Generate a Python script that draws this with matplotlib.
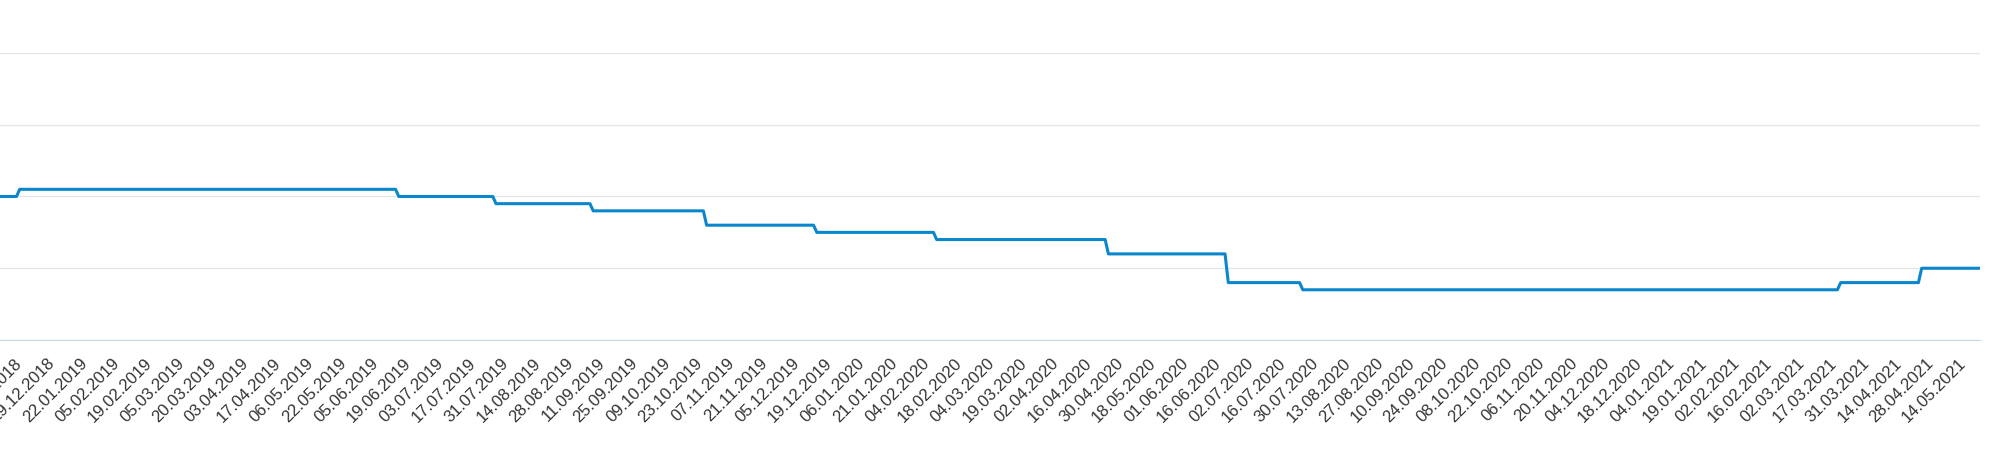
import numpy as np
import matplotlib.pyplot as plt

# key rate levels (%) and how many trading days each level lasted
rate_levels = [7.5, 7.75, 7.5, 7.25, 7.0, 6.5, 6.25, 6.0, 5.5, 4.5, 4.25, 4.5, 5.0]
level_days = [20, 117, 30, 30, 35, 34, 37, 53, 37, 23, 166, 25, 19]

# x labels, one every 10 trading days
tick_labels = ["17.12.2018", "29.12.2018", "22.01.2019", "05.02.2019", "19.02.2019",
               "05.03.2019", "20.03.2019", "03.04.2019", "17.04.2019", "06.05.2019",
               "22.05.2019", "05.06.2019", "19.06.2019", "03.07.2019", "17.07.2019",
               "31.07.2019", "14.08.2019", "28.08.2019", "11.09.2019", "25.09.2019",
               "09.10.2019", "23.10.2019", "07.11.2019", "21.11.2019", "05.12.2019",
               "19.12.2019", "06.01.2020", "21.01.2020", "04.02.2020", "18.02.2020",
               "04.03.2020", "19.03.2020", "02.04.2020", "16.04.2020", "30.04.2020",
               "18.05.2020", "01.06.2020", "16.06.2020", "02.07.2020", "16.07.2020",
               "30.07.2020", "13.08.2020", "27.08.2020", "10.09.2020", "24.09.2020",
               "08.10.2020", "22.10.2020", "06.11.2020", "20.11.2020", "04.12.2020",
               "18.12.2020", "04.01.2021", "19.01.2021", "02.02.2021", "16.02.2021",
               "02.03.2021", "17.03.2021", "31.03.2021", "14.04.2021", "28.04.2021",
               "14.05.2021"]
first_label = 20
label_step = 10

y_ticks = [2.5, 5, 7.5, 10, 12.5]

rates = np.repeat(rate_levels, level_days)
x = np.arange(len(rates))
tick_pos = first_label + label_step * np.arange(len(tick_labels))

W, H = 1994, 470
fig = plt.figure(figsize=(W / 100, H / 100), dpi=100)
# plot area runs off the left edge, like the cropped original
ax = fig.add_axes([-45.1 / W, 130 / H, 2025.1 / W, 287 / H])

ax.plot(x, rates, color='#0a87cc', lw=2.2, solid_joinstyle='round')
ax.set_xlim(0, len(rates) - 1)
ax.set_ylim(2.5, 12.5)
ax.set_yticks(y_ticks)
ax.set_yticklabels([])  # value axis sits outside the visible crop
ax.grid(axis='y', color='#e6e6e6', lw=1)
ax.set_axisbelow(True)
for s in ['top', 'right', 'left']:
    ax.spines[s].set_visible(False)
ax.spines['bottom'].set_color('#ccd6eb')

ax.set_xticks(tick_pos)
ax.set_xticklabels(tick_labels, rotation=45, ha='right', va='center',
                   rotation_mode='anchor', fontsize=12, color='#333333',
                   family=['Liberation Sans', 'DejaVu Sans'])
ax.tick_params(axis='x', length=0, pad=15)
ax.tick_params(axis='y', length=0)

fig.savefig('out.png', dpi=100)
